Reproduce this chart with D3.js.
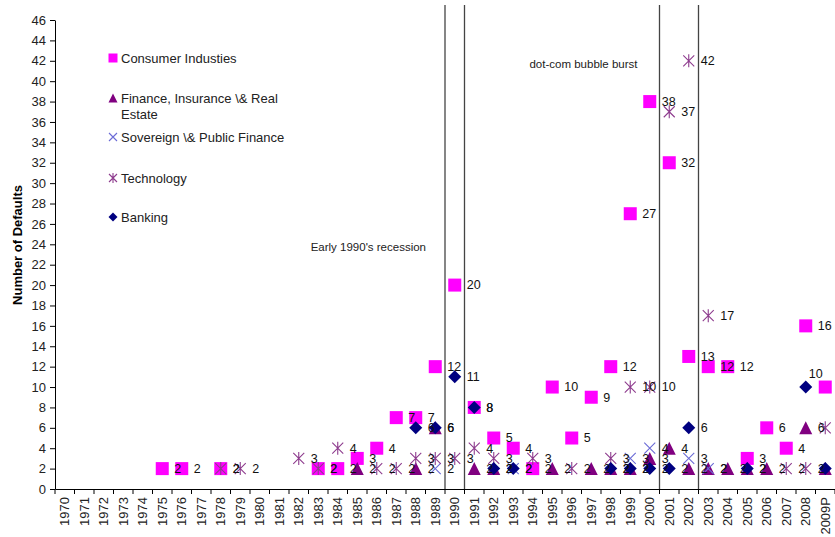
<!DOCTYPE html>
<html><head><meta charset="utf-8">
<script src="https://cdn.jsdelivr.net/npm/d3@7"></script>
<style>body{margin:0;background:#fff}svg{display:block;font-family:"Liberation Sans",Arial,sans-serif}</style>
</head><body>
<svg id="c" width="835" height="537"></svg>
<script>
const years = ["1970","1971","1972","1973","1974","1975","1976","1977","1978","1979","1980","1981","1982","1983","1984","1985","1986","1987","1988","1989","1990","1991","1992","1993","1994","1995","1996","1997","1998","1999","2000","2001","2002","2003","2004","2005","2006","2007","2008","2009P"];
const yTicks = d3.range(0, 47, 2);
// values per year, null = no defaults plotted
const consumer   = {"1975":2,"1976":2,"1978":2,"1983":2,"1984":2,"1985":3,"1986":4,"1987":7,"1988":7,"1989":12,"1990":20,"1991":8,"1992":5,"1993":4,"1994":2,"1995":10,"1996":5,"1997":9,"1998":12,"1999":27,"2000":38,"2001":32,"2002":13,"2003":12,"2004":12,"2005":3,"2006":6,"2007":4,"2008":16,"2009P":10};
const finance    = {"1985":2,"1988":2,"1989":6,"1991":2,"1992":2,"1995":2,"1997":2,"1998":2,"1999":2,"2000":3,"2001":4,"2002":2,"2003":2,"2004":2,"2005":2,"2006":2,"2008":6,"2009P":2};
const sovereign  = {"1989":2,"1993":2,"1999":3,"2000":4,"2002":3,"2003":2};
const technology = {"1978":2,"1979":2,"1982":3,"1983":2,"1984":4,"1986":2,"1987":2,"1988":3,"1989":3,"1990":3,"1991":4,"1992":3,"1994":3,"1996":2,"1998":3,"1999":10,"2000":10,"2001":37,"2002":42,"2003":17,"2007":2,"2008":2,"2009P":6};
const banking    = {"1988":6,"1989":6,"1990":11,"1991":8,"1992":2,"1993":2,"1998":2,"1999":2,"2000":2,"2001":2,"2002":6,"2005":2,"2008":10,"2009P":2};
const seriesNames = ["Consumer Industies","Finance, Insurance \\& Real Estate","Sovereign \\& Public Finance","Technology","Banking"];
const recessions = [{from:"1990",to:"1990",label:"Early 1990's recession"},{from:"2001",to:"2002",label:"dot-com bubble burst"}];

const series = [
  {name:seriesNames[0], data:consumer,   shape:"square",   color:"#ff00ff"},
  {name:seriesNames[1], data:finance,    shape:"triangle", color:"#800080"},
  {name:seriesNames[2], data:sovereign,  shape:"x",        color:"#6b6bd6"},
  {name:seriesNames[3], data:technology, shape:"star",     color:"#8e3c8e"},
  {name:seriesNames[4], data:banking,    shape:"diamond",  color:"#000080"}
];

const svg = d3.select("#c");
const L=55, R=835, T=20, B=489;
const x = d3.scaleBand().domain(years).range([L,R]).padding(0);
const bw = x.bandwidth();
const cx = yr => x(yr)+bw/2;
const y = d3.scaleLinear().domain([0,46]).range([B,T]);

function marker(g, shape, s, color){
  const h=s/2;
  if(shape==="square") g.append("rect").attr("x",-h).attr("y",-h).attr("width",s).attr("height",s).attr("fill",color);
  else if(shape==="diamond") g.append("path").attr("d",`M0,${-h}L${h},0L0,${h}L${-h},0Z`).attr("fill",color);
  else if(shape==="triangle") g.append("path").attr("d",`M0,${-h}L${h},${h}L${-h},${h}Z`).attr("fill",color);
  else if(shape==="x") g.append("path").attr("d",`M${-h},${-h}L${h},${h}M${-h},${h}L${h},${-h}`).attr("stroke",color).attr("stroke-width",1.1).attr("fill","none");
  else if(shape==="star") g.append("path").attr("d",`M${-h},${-h}L${h},${h}M${-h},${h}L${h},${-h}M0,${-h-1}L0,${h+1}`).attr("stroke",color).attr("stroke-width",1.1).attr("fill","none");
}

// y axis
const ya = svg.append("g").attr("transform",`translate(${L},0)`)
  .call(d3.axisLeft(y).tickValues(yTicks).tickSize(5).tickPadding(4).tickSizeOuter(0));
ya.select(".domain").attr("stroke","#000");
ya.selectAll("text").attr("font-size",13).attr("fill","#222").attr("font-family","Liberation Sans, Arial, sans-serif");
// x axis
const xa = svg.append("g").attr("transform",`translate(0,${B})`)
  .call(d3.axisBottom(x).tickSize(0).tickSizeOuter(0));
xa.select(".domain").attr("stroke","#000");
xa.selectAll("text").attr("font-size",13).attr("fill","#222").attr("font-family","Liberation Sans, Arial, sans-serif")
  .attr("transform","rotate(-90)").attr("text-anchor","end").attr("dy","0.35em").attr("x",-8).attr("y",0);
xa.selectAll(".tick").attr("transform",d=>`translate(${cx(d)},0)`);
svg.append("g").selectAll("line").data(years.concat(["__end"])).join("line")
  .attr("x1",(d,i)=>L+i*bw).attr("x2",(d,i)=>L+i*bw).attr("y1",B).attr("y2",B+5).attr("stroke","#000");

svg.append("text").attr("transform","translate(22,245) rotate(-90)").attr("text-anchor","middle")
  .attr("font-size",13).attr("font-weight","bold").text("Number of Defaults");

// recession lines
recessions.forEach((r,i)=>{
  const x0 = x(r.from), x1 = x(r.to)+bw;
  [x0,x1].forEach(xx=>svg.append("line").attr("x1",xx).attr("x2",xx).attr("y1",5).attr("y2",B).attr("stroke","#444").attr("stroke-width",1.3));
});
svg.append("text").attr("x",x("1990")-19).attr("y",251).attr("text-anchor","end").attr("font-size",11.5).attr("fill","#222").text(recessions[0].label);
svg.append("text").attr("x",x("2001")-22).attr("y",68).attr("text-anchor","end").attr("font-size",11.5).attr("fill","#222").text(recessions[1].label);

// markers
const pts=[];
series.forEach((s,si)=>{
  const g=svg.append("g");
  years.forEach(yr=>{
    const v=s.data[yr];
    if(v==null) return;
    const m=g.append("g").attr("transform",`translate(${cx(yr)},${y(v)})`);
    marker(m,s.shape,s.shape==="x"||s.shape==="star"?11:13,s.color);
    pts.push({si,yr,v});
  });
});
// labels
const lg=svg.append("g").attr("font-size",12.5).attr("fill","#111");
pts.forEach(p=>{
  const above = (p.si===4 && p.yr==="2008");
  lg.append("text").attr("x",cx(p.yr)+(above?10:12)).attr("y",y(p.v)+(above?-13:0)).attr("dy","0.35em")
    .attr("text-anchor",above?"middle":"start").text(p.v);
});

// legend
const legY=[58,98,137,178,217];
series.forEach((s,i)=>{
  const g=svg.append("g").attr("transform",`translate(113,${legY[i]})`);
  marker(g,s.shape,s.shape==="x"||s.shape==="star"?8:9,s.color);
  const t=svg.append("text").attr("x",121).attr("y",legY[i]).attr("dy","0.35em").attr("font-size",13).attr("fill","#222");
  if(i===1){
    t.append("tspan").attr("x",121).text("Finance, Insurance \\& Real");
    t.append("tspan").attr("x",121).attr("dy","1.3em").text("Estate");
  } else t.text(s.name);
});
</script>
</body></html>
